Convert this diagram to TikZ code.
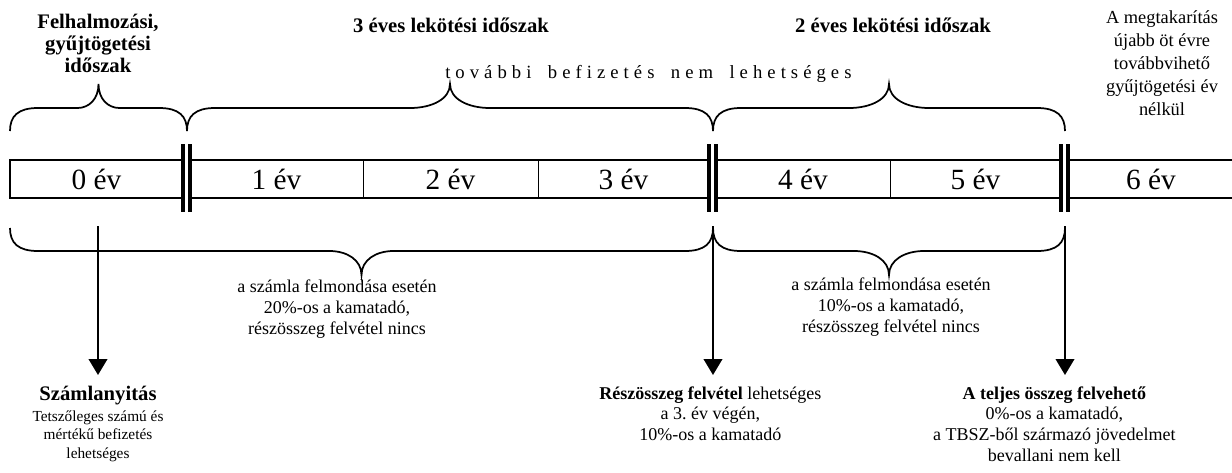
\documentclass[tikz,border=0pt]{standalone}
\usepackage{fontspec}
\setmainfont{Liberation Serif}
\newfontfamily\ritkitott[LetterSpace=27]{Liberation Serif}
\usetikzlibrary{positioning,arrows.meta}
\frenchspacing

\tikzset{
  evcella/.style={inner sep=0pt, font=\fontsize{22pt}{24pt}\selectfont},
  cimfelirat/.style={inner sep=0pt, align=center, font=\fontsize{15.5pt}{16.5pt}\selectfont\bfseries},
  oldalszoveg/.style={inner sep=0pt, align=center, font=\fontsize{13.8pt}{17.2pt}\selectfont},
  szoveg/.style={inner sep=0pt, align=center, font=\fontsize{13.5pt}{15.5pt}\selectfont},
  aprobetu/.style={inner sep=0pt, align=center, font=\fontsize{11.5pt}{14pt}\selectfont},
  keret/.style={line width=1.5pt},
  valaszto/.style={line width=0.75pt},
  dupla/.style={line width=3pt},
  kapocsvonal/.style={line width=1.3pt},
  nyil/.style={line width=1.3pt,-{Triangle[width=14pt,length=12pt]}}
}

% kapcsos zarojel: bal x, jobb x, veg y, irany (-1 fel, 1 le), csucs felszelesseg
\newcommand{\kapocs}[5]{%
  \pgfmathsetmacro{\kkozep}{(#1+#2)/2}
  \draw[kapocsvonal] ({#1},{#3}) .. controls ({#1},{#3+(#4)*15}) and ({#1+8},{#3+(#4)*23}) .. ({#1+28},{#3+(#4)*23})
    -- ({\kkozep-#5},{#3+(#4)*23}) .. controls ({\kkozep-0.45*#5},{#3+(#4)*23}) and ({\kkozep},{#3+(#4)*32}) .. ({\kkozep},{#3+(#4)*47})
    .. controls ({\kkozep},{#3+(#4)*32}) and ({\kkozep+0.45*#5},{#3+(#4)*23}) .. ({\kkozep+#5},{#3+(#4)*23})
    -- ({#2-28},{#3+(#4)*23}) .. controls ({#2-8},{#3+(#4)*23}) and ({#2},{#3+(#4)*15}) .. ({#2},{#3});
}

\begin{document}
\begin{tikzpicture}[x=0.75pt, y=-0.75pt]
  \useasboundingbox (0,0) rectangle (1232,472);

  % Felso cimek
  \node[cimfelirat] (felhalm) at (98,43) {Felhalmozási,\\gyűjtögetési\\időszak};
  \node[cimfelirat] (harom) at (451,25) {3 éves lekötési időszak};
  \node[cimfelirat] (ketto) at (893,25) {2 éves lekötési időszak};
  \node[oldalszoveg] (tovabb) at (1162,63) {A megtakarítás\\újabb öt évre\\továbbvihető\\gyűjtögetési év\\nélkül};
  \node[inner sep=0pt, anchor=base west, font=\fontsize{14pt}{16pt}\ritkitott] (nincsbefiz) at (445,78)
    {további\hspace{5pt} befizetés\hspace{5pt} nem\hspace{5pt} lehetséges};

  % Felso zarojelek
  \kapocs{10}{187}{131}{-1}{21}
  \kapocs{187}{713}{131}{-1}{40}
  \kapocs{713}{1065}{131}{-1}{40}

  % Evek sora
  \foreach \a/\b in {10/183, 190/709, 716/1061, 1068/1232}
    \draw[keret] (\a,160) -- (\b,160) (\a,198) -- (\b,198);
  \draw[keret] (10,159.3) -- (10,198.7);
  \foreach \x in {363,538,890}
    \draw[valaszto] (\x,160) -- (\x,198);
  \foreach \x in {183,190,709,716,1061,1068}
    \draw[dupla] (\x,144) -- (\x,212);

  \node[evcella] (ev0) at (96.5,179) {0 év};
  \node[evcella] (ev1) at (276.5,179) {1 év};
  \node[evcella] (ev2) at (450.5,179) {2 év};
  \node[evcella] (ev3) at (623.5,179) {3 év};
  \node[evcella] (ev4) at (803,179) {4 év};
  \node[evcella] (ev5) at (975.5,179) {5 év};
  \node[evcella] (ev6) at (1151,179) {6 év};

  % Also zarojelek
  \kapocs{10}{713}{228}{1}{32}
  \kapocs{713}{1065}{228}{1}{35}

  \node[szoveg] (felmond20) at (337,309) {a számla felmondása esetén\\20\%-os a kamatadó,\\részösszeg felvétel nincs};
  \node[szoveg] (felmond10) at (891,307) {a számla felmondása esetén\\10\%-os a kamatadó,\\részösszeg felvétel nincs};

  % Nyilak
  \coordinate (kezd0) at (98,226);
  \coordinate (kezd3) at (713,226);
  \coordinate (kezd5) at (1065,226);
  \coordinate (cel0) at (98,375);
  \coordinate (cel3) at (713,375);
  \coordinate (cel5) at (1065,375);
  \draw[nyil] (kezd0) -- (cel0);
  \draw[nyil] (kezd3) -- (cel3);
  \draw[nyil] (kezd5) -- (cel5);

  % Also feliratok
  \node[cimfelirat, below=8.5pt of cel0] (szamla) {Számlanyitás};
  \node[aprobetu, below=3.5pt of szamla] (szamlainfo) {Tetszőleges számú és\\mértékű befizetés\\lehetséges};
  \node[szoveg, below=8.5pt of cel3, xshift=-2pt] (reszosszeg) {\textbf{Részösszeg felvétel} lehetséges\\a 3. év végén,\\10\%-os a kamatadó};
  \node[szoveg, below=8.5pt of cel5, xshift=-8pt] (teljes) {\textbf{A teljes összeg felvehető}\\0\%-os a kamatadó,\\a TBSZ-ből származó jövedelmet\\bevallani nem kell};
\end{tikzpicture}
\end{document}
